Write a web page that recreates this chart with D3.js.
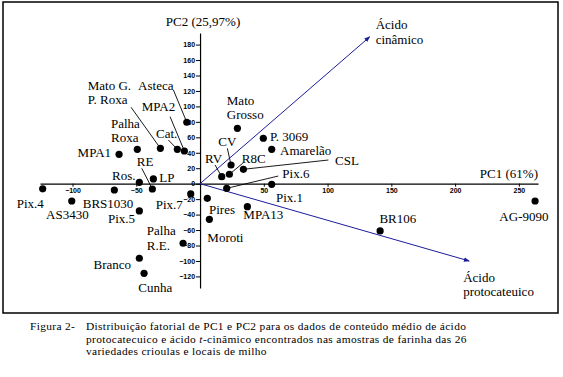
<!DOCTYPE html>
<html>
<head>
<meta charset="utf-8">
<script src="https://cdn.jsdelivr.net/npm/d3@7"></script>
<style>
  body { margin: 0; background: #fff; }
  svg text.lbl { font-family: "Liberation Serif", "Times New Roman", serif; font-size: 13px; fill: #000; }
  svg .tick text { font-family: "Liberation Sans", Arial, sans-serif; font-size: 7px; font-weight: bold; }
  svg text.caption { font-family: "Liberation Serif", "Times New Roman", serif; font-size: 11.4px; letter-spacing: 0.35px; fill: #000; }
</style>
</head>
<body>
<script>
// variety names and their PC scores
var names = ["Pix.4", "AS3430", "BRS1030", "Ros.", "LP", "RE", "Pix.5", "Pix.7", "Palha R.E.",
  "Branco", "Cunha", "Pires", "Moroti", "MPA13", "Pix.1", "Pix.6", "BR106", "AG-9090", "RV",
  "R8C", "CV", "CSL", "Mato Grosso", "P. 3069", "Amarelão", "Asteca", "MPA2", "Cat.",
  "Mato G. P. Roxa", "Palha Roxa", "MPA1"];
var pc1 = [-123.4, -100.6, -67.2, -47.6, -36.6, -37.4, -47.6, -7.3, -13.3,
  -47.6, -43.9, 5.7, 7.3, 37.1, 56.2, 20.9, 141.2, 262.7, 17,
  23, 24.3, 34, 29.3, 49.6, 56.2, -10.4, -12.3, -17.8,
  -31.1, -49.2, -63.5];
var pc2 = [-6.6, -22.4, -8.2, 1.8, 6.1, -6.9, -35.3, -13.3, -77.1,
  -96.5, -116, -18.9, -46.1, -29.8, -0.8, -6, -61.2, -22.4, 9.1,
  12.2, 24.2, 18.6, 71.7, 58.8, 44.5, 79.5, 42.3, 44.5,
  45.8, 44.5, 38];

// loading vectors of the two acids
var vecNames = [["Ácido", "cinâmico"], ["Ácido", "protocateuico"]];
var vecPc1 = [133, 211];
var vecPc2 = [190, -100];

var xTicks = [-100, -50, 50, 100, 150, 200, 250];
var yTicks = [-120, -100, -80, -60, -40, -20, 0, 20, 40, 60, 80, 100, 120, 140, 160, 180];

// label placement (pixels from the dot): text lines, dx, dy, anchor, leader start
var labelPos = {
  "Pix.4": [["Pix.4"], -26, 15],
  "AS3430": [["AS3430"], -25.7, 13],
  "BRS1030": [["BRS1030"], -31.6, 13.3],
  "Ros.": [["Ros."], -27.3, -6.6],
  "LP": [["LP"], 6, -1.7],
  "RE": [["RE"], -15.6, -27.3, "start", [-10.6, -20.7]],
  "Pix.5": [["Pix.5"], -4.3, 7.3, "end"],
  "Pix.7": [["Pix.7"], -8, 10.3, "end"],
  "Palha R.E.": [["Palha", "R.E."], -36.3, -12.6],
  "Branco": [["Branco"], -8.3, 5.7, "end"],
  "Cunha": [["Cunha"], -5.7, 14],
  "Pires": [["Pires"], 1.7, 11],
  "Moroti": [["Moroti"], -2, 18],
  "MPA13": [["MPA13"], -4, 8],
  "Pix.1": [["Pix.1"], 4.3, 12.7],
  "Pix.6": [["Pix.6"], 55.6, -14.8, "start", [51.6, -12.3]],
  "BR106": [["BR106"], -0.7, -12.7],
  "AG-9090": [["AG-9090"], -35.7, 15.7],
  "RV": [["RV"], -16.7, -18.4, "start", [-6.7, -11.7]],
  "R8C": [["R8C"], 12.4, -16, "start", [13.4, -11]],
  "CV": [["CV"], -12.7, -23.3, "start", [-3.7, -16.7]],
  "CSL": [["CSL"], 91.7, -9.3, "start", [85, -9.3]],
  "Mato Grosso": [["Mato", "Grosso"], -10.6, -28.3],
  "P. 3069": [["P. 3069"], 6.7, -1.6],
  "Amarelão": [["Amarelão"], 8.3, 1.4],
  "Asteca": [["Asteca"], -48.7, -37.3, "start", [-13.4, -32.3]],
  "MPA2": [["MPA2"], -42.6, -45, "start", [-14.3, -34.3]],
  "Cat.": [["Cat."], -21.3, -16.3, "start", [-9, -9.3]],
  "Mato G. P. Roxa": [["Mato G.", "P. Roxa"], -72.6, -63.3, "start", [-29.3, -41]],
  "Palha Roxa": [["Palha", "Roxa"], -26.3, -26],
  "MPA1": [["MPA1"], -8, -2, "end"]
};

var svgW = 563, svgH = 377;
var blue = "#1c1c9c";

var svg = d3.select("body").append("svg")
    .attr("width", svgW)
    .attr("height", svgH);

svg.append("rect")
    .attr("width", svgW).attr("height", svgH)
    .attr("fill", "#fff");

// frame
svg.append("rect")
    .attr("x", 3).attr("y", 2)
    .attr("width", 555).attr("height", 311)
    .attr("fill", "none")
    .attr("stroke", "#000")
    .attr("stroke-width", 1.5);

// scales
var x = d3.scaleLinear().domain([-125.5, 265]).range([40, 538]);
var y = d3.scaleLinear().domain([-135, 195]).range([288, 33]);

// axes through the origin
svg.append("g")
    .attr("transform", "translate(0," + y(0) + ")")
    .call(d3.axisBottom(x).tickValues(xTicks).tickSize(3).tickSizeOuter(0).tickPadding(1))
    .call(function(g) { g.select(".domain").attr("stroke-width", 1.2); });

svg.append("g")
    .attr("transform", "translate(" + x(0) + ",0)")
    .call(d3.axisLeft(y).tickValues(yTicks).tickSize(4).tickSizeOuter(0).tickPadding(1))
    .call(function(g) { g.select(".domain").attr("stroke-width", 1.2); });

svg.append("text")
    .attr("class", "lbl")
    .attr("x", x(0) + 3)
    .attr("y", 21)
    .attr("dy", "0.35em")
    .style("text-anchor", "middle")
    .text("PC2 (25,97%)");

svg.append("text")
    .attr("class", "lbl")
    .attr("x", 538)
    .attr("y", 173)
    .attr("dy", "0.35em")
    .style("text-anchor", "end")
    .text("PC1 (61%)");

// arrow heads
svg.append("defs").append("marker")
    .attr("id", "arr")
    .attr("viewBox", "0 -3 8 6")
    .attr("refX", 7).attr("refY", 0)
    .attr("markerWidth", 6).attr("markerHeight", 5)
    .attr("markerUnits", "userSpaceOnUse")
    .attr("orient", "auto")
  .append("path")
    .attr("d", "M0,-3L8,0L0,3Z")
    .attr("fill", blue);

var vecs = vecNames.map(function(n, i) { return {name: n, pc1: vecPc1[i], pc2: vecPc2[i]}; });

svg.selectAll(".vec")
    .data(vecs)
  .enter().append("line")
    .attr("class", "vec")
    .attr("x1", x(0)).attr("y1", y(0))
    .attr("x2", function(d) { return x(d.pc1); })
    .attr("y2", function(d) { return y(d.pc2); })
    .attr("stroke", blue)
    .attr("stroke-width", 1)
    .attr("marker-end", "url(#arr)");

// vector labels
var vecLbl = svg.selectAll(".veclbl")
    .data(vecs)
  .enter().append("text")
    .attr("class", "lbl veclbl")
    .attr("transform", function(d, i) {
      return i == 0 ? "translate(" + (x(d.pc1) + 6) + "," + (y(d.pc2) - 12) + ")"
                    : "translate(" + (x(d.pc1) - 6) + "," + (y(d.pc2) + 16) + ")";
    });
vecLbl.selectAll("tspan")
    .data(function(d) { return d.name; })
  .enter().append("tspan")
    .attr("x", 0)
    .attr("y", function(d, i) { return i * 14.5; })
    .attr("dy", "0.35em")
    .text(function(d) { return d; });

// varieties
var pts = names.map(function(n, i) { return {name: n, pc1: pc1[i], pc2: pc2[i], lp: labelPos[n]}; });

// leader lines
svg.selectAll(".leader")
    .data(pts.filter(function(d) { return d.lp[4]; }))
  .enter().append("line")
    .attr("class", "leader")
    .attr("x1", function(d) { return x(d.pc1) + d.lp[4][0]; })
    .attr("y1", function(d) { return y(d.pc2) + d.lp[4][1]; })
    .attr("x2", function(d) { return x(d.pc1); })
    .attr("y2", function(d) { return y(d.pc2); })
    .attr("stroke", "#000")
    .attr("stroke-width", 0.9);

svg.selectAll(".dot")
    .data(pts)
  .enter().append("circle")
    .attr("class", "dot")
    .attr("r", 3.6)
    .attr("cx", function(d) { return x(d.pc1); })
    .attr("cy", function(d) { return y(d.pc2); })
    .attr("fill", "#000");

var lbl = svg.selectAll(".ptlbl")
    .data(pts)
  .enter().append("text")
    .attr("class", "lbl ptlbl")
    .attr("transform", function(d) {
      return "translate(" + (x(d.pc1) + d.lp[1]) + "," + (y(d.pc2) + d.lp[2]) + ")";
    })
    .style("text-anchor", function(d) { return d.lp[3] || "start"; });
lbl.selectAll("tspan")
    .data(function(d) { return d.lp[0]; })
  .enter().append("tspan")
    .attr("x", 0)
    .attr("y", function(d, i) { return i * 14.5; })
    .attr("dy", "0.35em")
    .text(function(d) { return d; });

// caption
var capY = [330, 342.7, 355.4];
var cap = svg.append("g");
cap.append("text").attr("class", "caption")
    .attr("x", 30).attr("y", capY[0]).text("Figura 2-");
cap.append("text").attr("class", "caption")
    .attr("x", 86).attr("y", capY[0])
    .text("Distribuição fatorial de PC1 e PC2 para os dados de conteúdo médio de ácido");
var l2 = cap.append("text").attr("class", "caption")
    .attr("x", 86).attr("y", capY[1]);
l2.append("tspan").text("protocatecuico e ácido ");
l2.append("tspan").style("font-style", "italic").text("t");
l2.append("tspan").text("-cinâmico encontrados nas amostras de farinha das 26");
cap.append("text").attr("class", "caption")
    .attr("x", 86).attr("y", capY[2])
    .text("variedades crioulas e locais de milho");
</script>
</body>
</html>
